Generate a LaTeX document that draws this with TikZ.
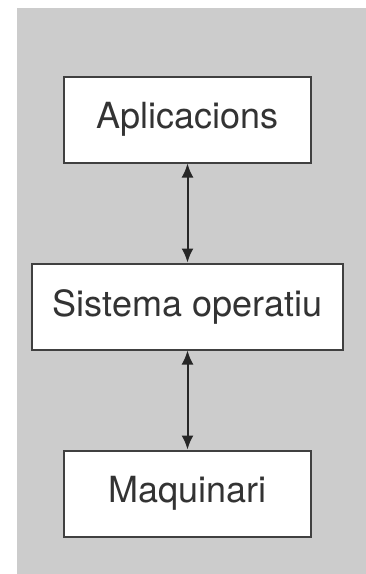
\documentclass[tikz,border=0pt]{standalone}
\usepackage{fontspec}
\setmainfont{TeX Gyre Heros}
\usetikzlibrary{positioning,arrows.meta}

\tikzset{
  layer/.style={draw=black!75, line width=2pt, fill=white, text=black!80,
    font=\fontsize{36}{40}\selectfont, minimum height=86pt, inner sep=0pt},
  link/.style={{Latex[length=14pt,width=12pt]}-{Latex[length=14pt,width=12pt]},
    line width=2pt, draw=black!85}
}

\begin{document}
\begin{tikzpicture}[x=1pt,y=1pt,node distance=99pt]
\useasboundingbox (0,0) rectangle (366,-574);
\fill[black!20] (17,-8) rectangle (366,-574);
\node[layer, minimum width=247pt] (apps) at (187.5,-119.5) {Aplicacions};
\node[layer, minimum width=311pt, below=of apps] (so) {Sistema operatiu};
\node[layer, minimum width=247pt, below=of so] (maq) {Maquinari};
\draw[link] (apps) -- (so);
\draw[link] (so) -- (maq);
\end{tikzpicture}
\end{document}
